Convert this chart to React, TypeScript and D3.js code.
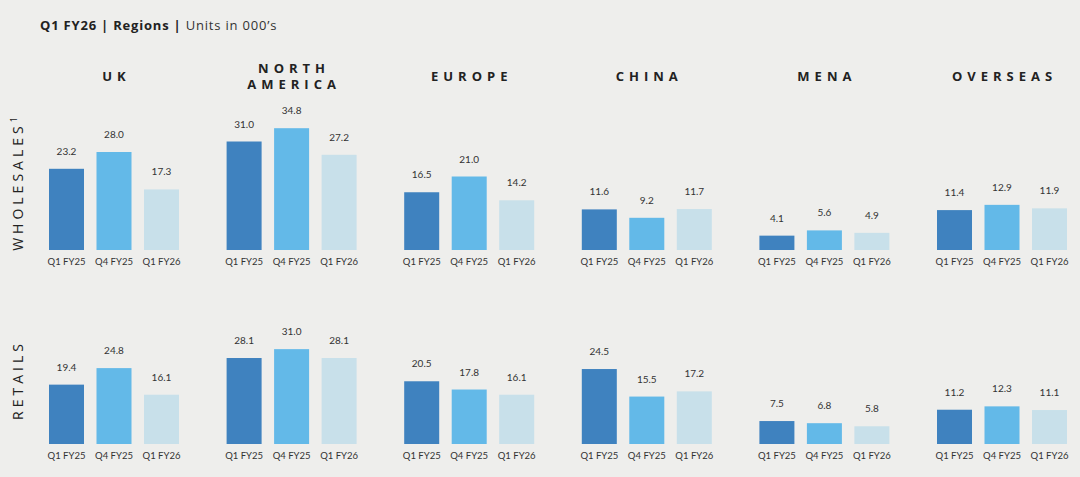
import * as d3 from 'd3';

const REGIONS = ['UK', 'NORTH AMERICA', 'EUROPE', 'CHINA', 'MENA', 'OVERSEAS'];
const HEADER_LINES: string[][] = [['UK'], ['NORTH', 'AMERICA'], ['EUROPE'], ['CHINA'], ['MENA'], ['OVERSEAS']];
const PERIODS = ['Q1 FY25', 'Q4 FY25', 'Q1 FY26'];

// values per region: [Q1 FY25, Q4 FY25, Q1 FY26]
const WHOLESALES = [
  [23.2, 28.0, 17.3],
  [31.0, 34.8, 27.2],
  [16.5, 21.0, 14.2],
  [11.6, 9.2, 11.7],
  [4.1, 5.6, 4.9],
  [11.4, 12.9, 11.9],
];
const RETAILS = [
  [19.4, 24.8, 16.1],
  [28.1, 31.0, 28.1],
  [20.5, 17.8, 16.1],
  [24.5, 15.5, 17.2],
  [7.5, 6.8, 5.8],
  [11.2, 12.3, 11.1],
];

const COLORS = ['#3f82bf', '#63b9e8', '#c8e0ea'];
const W = 1080;
const H = 477;

const regionX = d3.scaleBand<string>().domain(REGIONS).range([49, 49 + 177.6 * 6]).padding(0);
const barX = d3.scaleBand<string>().domain(PERIODS).range([0, 130]).paddingInner(0.263).paddingOuter(0);
const color = d3.scaleOrdinal<string, string>().domain(PERIODS).range(COLORS);

const rows = [
  { key: 'w', data: WHOLESALES, y: d3.scaleLinear().domain([0, 40]).range([250, 110]) },
  { key: 'r', data: RETAILS, y: d3.scaleLinear().domain([0, 40]).range([444, 321.6]) },
];

const labelFont = 'Lato, "Open Sans", sans-serif';
const headFont = '"Open Sans", Lato, sans-serif';

export default function App() {
  return (
    <svg width={W} height={H} style={{ display: 'block', position: 'fixed', left: 0, top: 0 }}>
      <rect width={W} height={H} fill="#eeeeec" />
      <text x={40} y={30} fontFamily={headFont} fontSize={13} fill="#222" letterSpacing={0.8}>
        <tspan fontWeight={700}>Q1 FY26 | Regions | </tspan>
        <tspan fontWeight={400} fill="#333">Units in 000’s</tspan>
      </text>

      <text transform="translate(23,182) rotate(-90)" textAnchor="middle" fontFamily={headFont}
        fontSize={14} fill="#222" letterSpacing={4}>
        WHOLESALES<tspan fontSize={9} dy={-6}>1</tspan>
      </text>
      <text transform="translate(23,380) rotate(-90)" textAnchor="middle" fontFamily={headFont}
        fontSize={14} fill="#222" letterSpacing={4}>
        RETAILS
      </text>

      {REGIONS.map((region, i) => {
        const x0 = regionX(region)!;
        const cx = x0 + barX(PERIODS[1])! + barX.bandwidth() / 2;
        const lines = HEADER_LINES[i];
        return (
          <g key={region}>
            {lines.map((ln, j) => (
              <text key={ln} x={cx + 2.5} y={lines.length === 1 ? 81 : 73 + j * 16} textAnchor="middle"
                fontFamily={headFont} fontWeight={700} fontSize={13} fill="#222" letterSpacing={5}>
                {ln}
              </text>
            ))}
            {rows.map((row) => {
              const y = row.y;
              return (
                <g key={row.key} transform={`translate(${x0},0)`}>
                  {PERIODS.map((p, k) => {
                    const v = row.data[i][k];
                    const bx = barX(p)!;
                    return (
                      <g key={p}>
                        <rect x={bx} y={y(v)} width={barX.bandwidth()} height={y(0) - y(v)} fill={color(p)} />
                        <text x={bx + barX.bandwidth() / 2} y={y(v) - 14} textAnchor="middle"
                          fontFamily={labelFont} fontSize={10} fill="#333">
                          {v.toFixed(1)}
                        </text>
                        <text x={bx + barX.bandwidth() / 2} y={y(0) + 15} textAnchor="middle"
                          fontFamily={labelFont} fontSize={9.5} fill="#333">
                          {p}
                        </text>
                      </g>
                    );
                  })}
                </g>
              );
            })}
          </g>
        );
      })}
    </svg>
  );
}
